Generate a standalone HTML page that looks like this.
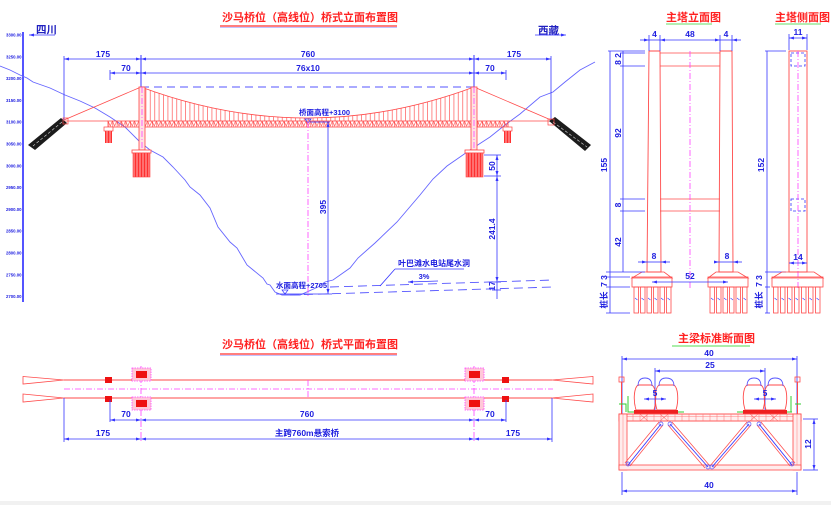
<!DOCTYPE html>
<html><head><meta charset="utf-8">
<style>
html,body{margin:0;padding:0;background:#fff;}
svg{display:block;}
text{font-family:"Liberation Sans","Noto Sans CJK SC",sans-serif;font-weight:bold;}
.d{stroke:#3535ff;stroke-width:0.8;fill:none;}
.da{stroke:#3535ff;stroke-width:0.8;fill:none;marker-start:url(#ar);marker-end:url(#ar);}
.r{stroke:#ff4a4a;stroke-width:0.8;fill:none;}
.pk{stroke:#ff40ff;stroke-width:0.8;fill:none;stroke-dasharray:6 2 1 2;}
.t{fill:#2020e0;font-size:8.5px;}
.ti{fill:#ff2020;font-size:11px;}
</style></head><body>
<svg width="831" height="505" viewBox="0 0 831 505" xmlns="http://www.w3.org/2000/svg">
<defs>
<marker id="ar" viewBox="0 0 10 10" refX="10" refY="5" markerWidth="5" markerHeight="5" orient="auto-start-reverse" markerUnits="userSpaceOnUse"><path d="M0,2 L10,5 L0,8 z" fill="#3535ff"/></marker>
<pattern id="hg" width="4.4" height="10" patternUnits="userSpaceOnUse" x="141"><line x1="0.5" y1="0" x2="0.5" y2="10" stroke="#ff5555" stroke-width="0.7"/></pattern>
<pattern id="tr" width="4.4" height="6" patternUnits="userSpaceOnUse" x="108" y="121"><path d="M0,0 L2.2,5 L4.4,0 M0.3,0 V6" stroke="#ff4444" stroke-width="0.6" fill="none"/></pattern>
<pattern id="pl" width="3" height="10" patternUnits="userSpaceOnUse"><rect width="3" height="10" fill="#ff7070"/><line x1="0.5" y1="0" x2="0.5" y2="10" stroke="#ff2020" stroke-width="0.8"/></pattern>
</defs>
<rect x="0" y="0" width="831" height="505" fill="#fff"/>
<rect x="0" y="501" width="831" height="4" fill="#f1f1f1"/>

<!-- ============ ELEVATION ============ -->
<text x="222" y="21" class="ti">沙马桥位（高线位）桥式立面布置图</text>
<line x1="220" y1="26" x2="397" y2="26" stroke="#ff3030" stroke-width="1.2"/>
<line x1="220" y1="27.5" x2="397" y2="27.5" stroke="#8888ff" stroke-width="0.6"/>

<text x="36" y="33" fill="#2020c0" font-size="10.5">四川</text>
<line x1="29" y1="35" x2="55" y2="35" class="d" marker-start="url(#ar)"/>
<text x="538" y="34" fill="#2020c0" font-size="10.5">西藏</text>
<line x1="535" y1="35" x2="566" y2="35" class="d" marker-end="url(#ar)"/>

<!-- elevation axis -->
<line x1="23" y1="32" x2="23" y2="302" stroke="#2a2aff" stroke-width="1.6"/>
<g fill="#2020e0" font-size="4.3">
<text x="6" y="36.5">3300.00</text><text x="6" y="58.3">3250.00</text><text x="6" y="80.1">3200.00</text>
<text x="6" y="101.9">3150.00</text><text x="6" y="123.7">3100.00</text><text x="6" y="145.5">3050.00</text>
<text x="6" y="167.3">3000.00</text><text x="6" y="189.1">2950.00</text><text x="6" y="210.9">2900.00</text>
<text x="6" y="232.7">2850.00</text><text x="6" y="254.5">2800.00</text><text x="6" y="276.3">2750.00</text>
<text x="6" y="298.1">2700.00</text>
</g>

<!-- terrain -->
<polyline fill="none" stroke="#6565ff" stroke-width="0.9" points="0,66 10,70 20,75 27,78 33,82 50,88 65,95 80,101 95,108 110,117 125,127 140,142 150,150 163,157 173,167 185,180 190,187 200,195 210,208 218,227 230,242 237,248 247,265 263,278 267,284 270,285 275,292 282,295 300,295 318,287 325,282 333,280 350,268 358,258 375,243 397,222 420,195 433,179 447,166 460,157 470,150 490,137 505,125 520,114 540,97 553,92 565,82 580,70 595,62"/>

<!-- top dims -->
<line x1="64" y1="59" x2="141" y2="59" class="da"/>
<line x1="141" y1="59" x2="474" y2="59" class="da"/>
<line x1="474" y1="59" x2="551" y2="59" class="da"/>
<line x1="110" y1="73" x2="141" y2="73" class="da"/>
<line x1="141" y1="73" x2="474" y2="73" class="da"/>
<line x1="474" y1="73" x2="506" y2="73" class="da"/>
<line x1="64" y1="56" x2="64" y2="120" class="d"/>
<line x1="551" y1="56" x2="551" y2="120" class="d"/>
<line x1="141" y1="55" x2="141" y2="87" stroke="#3535ff" stroke-width="1"/>
<line x1="474" y1="55" x2="474" y2="87" stroke="#3535ff" stroke-width="1"/>
<line x1="110" y1="70" x2="110" y2="80" class="d"/>
<line x1="506" y1="70" x2="506" y2="80" class="d"/>
<text x="103" y="57" class="t" text-anchor="middle">175</text>
<text x="308" y="57" class="t" text-anchor="middle">760</text>
<text x="514" y="57" class="t" text-anchor="middle">175</text>
<text x="126" y="71" class="t" text-anchor="middle">70</text>
<text x="308" y="71" class="t" text-anchor="middle">76x10</text>
<text x="490" y="71" class="t" text-anchor="middle">70</text>
<line x1="141" y1="87" x2="474" y2="87" stroke="#5555ff" stroke-width="1" stroke-dasharray="8 5"/>

<!-- cable & hangers -->
<path d="M141,87 Q307.5,149 474,87 L474,121 L141,121 Z" fill="url(#hg)"/>
<path d="M141,87 Q307.5,149 474,87" class="r" stroke-width="1"/>
<line x1="141" y1="87" x2="64" y2="120" class="r"/>
<line x1="474" y1="87" x2="551" y2="120" class="r"/>
<line x1="64" y1="121" x2="108" y2="121" class="r"/>
<line x1="508" y1="121" x2="551" y2="121" class="r"/>
<!-- deck -->
<rect x="108" y="121" width="400" height="6" fill="url(#tr)" stroke="#ff4444" stroke-width="0.8"/>
<!-- towers -->
<rect x="139" y="87" width="6" height="63" fill="#ffe2e2" stroke="#ff4444" stroke-width="0.8"/>
<rect x="471" y="87" width="6" height="63" fill="#ffe2e2" stroke="#ff4444" stroke-width="0.8"/>
<line x1="142" y1="87" x2="142" y2="150" class="pk"/>
<line x1="474" y1="87" x2="474" y2="150" class="pk"/>
<!-- foundations -->
<rect x="132" y="150" width="19" height="3" fill="#fff" stroke="#ff4444" stroke-width="0.8"/>
<rect x="133" y="153" width="17" height="24" fill="url(#pl)" stroke="#ff4444" stroke-width="0.6"/>
<rect x="465" y="150" width="19" height="3" fill="#fff" stroke="#ff4444" stroke-width="0.8"/>
<rect x="466" y="153" width="17" height="24" fill="url(#pl)" stroke="#ff4444" stroke-width="0.6"/>
<!-- side piers -->
<rect x="104" y="127" width="9" height="4" fill="#fff" stroke="#ff4444" stroke-width="0.7"/>
<rect x="105" y="131" width="7" height="12" fill="url(#pl)"/>
<rect x="503" y="127" width="9" height="4" fill="#fff" stroke="#ff4444" stroke-width="0.7"/>
<rect x="504" y="131" width="7" height="12" fill="url(#pl)"/>
<!-- anchors -->
<polygon points="61,118 67,123 35,150 28,145" fill="#1c1c1c"/>
<line x1="62" y1="122" x2="33" y2="146" stroke="#ddd" stroke-width="0.6" stroke-dasharray="3 2"/>
<rect x="63" y="118" width="5" height="6" fill="none" stroke="#ff4444" stroke-width="0.7"/>
<polygon points="549,121 555,117 591,145 585,151" fill="#1c1c1c"/>
<line x1="553" y1="122" x2="587" y2="147" stroke="#ddd" stroke-width="0.6" stroke-dasharray="3 2"/>
<rect x="548" y="119" width="6" height="6" fill="none" stroke="#ff4444" stroke-width="0.7"/>

<!-- centre annotations -->
<text x="299" y="115" fill="#2020e0" font-size="7.5">桥面高程+3100</text>
<path d="M305,119 L311,119 L308,123 Z" fill="none" stroke="#3535ff" stroke-width="0.7"/>
<line x1="308" y1="122" x2="308" y2="297" class="pk"/>
<line x1="310" y1="122" x2="330" y2="122" class="d"/>
<line x1="328" y1="122" x2="328" y2="294" class="da"/>
<text transform="translate(326,207) rotate(-90)" class="t" text-anchor="middle">395</text>
<text x="276" y="288" fill="#2020e0" font-size="7.5">水面高程+2705</text>
<path d="M282,290 L288,290 L285,294 Z" fill="none" stroke="#3535ff" stroke-width="0.7"/>
<line x1="276" y1="294" x2="332" y2="294" class="d"/>

<!-- right dims -->
<line x1="497" y1="155" x2="497" y2="176" class="da"/>
<line x1="497" y1="176" x2="497" y2="282" class="da"/>
<line x1="497" y1="282" x2="497" y2="290" class="d"/>
<line x1="497" y1="290" x2="497" y2="299" class="d"/>
<line x1="484" y1="155" x2="501" y2="155" class="d"/>
<line x1="484" y1="176" x2="501" y2="176" class="d"/>
<line x1="492" y1="282" x2="501" y2="282" class="d"/>
<line x1="492" y1="290" x2="501" y2="290" class="d"/>
<text transform="translate(495,166) rotate(-90)" class="t" text-anchor="middle">50</text>
<text transform="translate(495,229) rotate(-90)" class="t" text-anchor="middle">241.4</text>
<text transform="translate(495,286) rotate(-90)" class="t" text-anchor="middle" font-size="7">17</text>

<!-- dashed tunnel lines -->
<line x1="330" y1="287" x2="553" y2="280" stroke="#5555ff" stroke-width="0.9" stroke-dasharray="9 5"/>
<line x1="290" y1="295" x2="553" y2="287" stroke="#5555ff" stroke-width="0.9" stroke-dasharray="9 5"/>
<text x="398" y="266" fill="#2020e0" font-size="8">叶巴滩水电站尾水洞</text>
<line x1="395" y1="269" x2="464" y2="269" class="d"/>
<line x1="395" y1="269" x2="380" y2="286" class="d"/>
<text x="424" y="279" fill="#2020e0" font-size="7.5" text-anchor="middle">3%</text>
<line x1="438" y1="281" x2="408" y2="282" class="d" marker-end="url(#ar)"/>

<!-- ============ TOWER ELEVATION ============ -->
<text x="666" y="21" class="ti" font-size="10.5">主塔立面图</text>
<line x1="666" y1="24" x2="712" y2="24" stroke="#66dd66" stroke-width="1"/>
<text x="775" y="21" class="ti" font-size="10.5">主塔侧面图</text>
<line x1="775" y1="24" x2="821" y2="24" stroke="#66dd66" stroke-width="1"/>

<!-- legs -->
<polygon points="649,51 660,51 661,272 647,272" fill="none" stroke="#ff4a4a" stroke-width="0.9"/>
<polygon points="720,51 732,51 733,272 719,272" fill="none" stroke="#ff4a4a" stroke-width="0.9"/>
<line x1="660" y1="53" x2="720" y2="53" class="r"/>
<line x1="660" y1="66" x2="720" y2="66" class="r"/>
<line x1="660" y1="199" x2="720" y2="199" class="r"/>
<line x1="660" y1="211" x2="720" y2="211" class="r"/>
<line x1="690" y1="51" x2="690" y2="290" class="pk"/>
<!-- footings -->
<path d="M642,272 L664,272 L672,278 L632,278 Z" fill="none" stroke="#ff4a4a" stroke-width="0.8"/>
<rect x="632" y="277" width="40" height="10" fill="none" stroke="#ff4a4a" stroke-width="0.8"/>
<path d="M716,272 L738,272 L748,278 L708,278 Z" fill="none" stroke="#ff4a4a" stroke-width="0.8"/>
<rect x="708" y="277" width="40" height="10" fill="none" stroke="#ff4a4a" stroke-width="0.8"/>
<g fill="none" stroke="#ff4a4a" stroke-width="0.8">
<rect x="634" y="287" width="4.5" height="26"/><rect x="640.5" y="287" width="4.5" height="26"/><rect x="647" y="287" width="4.5" height="26"/>
<rect x="653.5" y="287" width="4.5" height="26"/><rect x="660" y="287" width="4.5" height="26"/><rect x="666.5" y="287" width="4.5" height="26"/>
<rect x="710" y="287" width="4.5" height="26"/><rect x="716.5" y="287" width="4.5" height="26"/><rect x="723" y="287" width="4.5" height="26"/>
<rect x="729.5" y="287" width="4.5" height="26"/><rect x="736" y="287" width="4.5" height="26"/><rect x="742.5" y="287" width="4.5" height="26"/>
</g>
<g stroke="#3535ff" stroke-width="0.6">
<path d="M635,298 l2.5,2 M641.5,298 l2.5,2 M648,298 l2.5,2 M654.5,298 l2.5,2 M661,298 l2.5,2 M667.5,298 l2.5,2"/>
<path d="M711,298 l2.5,2 M717.5,298 l2.5,2 M724,298 l2.5,2 M730.5,298 l2.5,2 M737,298 l2.5,2 M743.5,298 l2.5,2"/>
</g>
<!-- tower dims -->
<line x1="640" y1="40" x2="649" y2="40" class="d" marker-end="url(#ar)"/>
<line x1="649" y1="40" x2="660" y2="40" class="d"/>
<line x1="660" y1="40" x2="720" y2="40" class="da"/>
<line x1="720" y1="40" x2="732" y2="40" class="d"/>
<line x1="741" y1="40" x2="732" y2="40" class="d" marker-end="url(#ar)"/>
<line x1="649" y1="35" x2="649" y2="51" class="d"/><line x1="660" y1="35" x2="660" y2="51" class="d"/>
<line x1="720" y1="35" x2="720" y2="51" class="d"/><line x1="732" y1="35" x2="732" y2="51" class="d"/>
<text x="654.5" y="37" class="t" text-anchor="middle">4</text>
<text x="690" y="37" class="t" text-anchor="middle">48</text>
<text x="726" y="37" class="t" text-anchor="middle">4</text>
<line x1="608" y1="51" x2="645" y2="51" class="d"/>
<line x1="620" y1="53" x2="645" y2="53" class="d"/>
<line x1="620" y1="66" x2="645" y2="66" class="d"/>
<line x1="620" y1="199" x2="645" y2="199" class="d"/>
<line x1="620" y1="211" x2="645" y2="211" class="d"/>
<line x1="606" y1="272" x2="645" y2="272" class="d"/>
<line x1="606" y1="277" x2="630" y2="277" class="d"/>
<line x1="606" y1="287" x2="630" y2="287" class="d"/>
<line x1="606" y1="313" x2="630" y2="313" class="d"/>
<line x1="610" y1="51" x2="610" y2="313" class="d"/>
<line x1="623" y1="51" x2="623" y2="272" class="d"/>
<text transform="translate(607,165) rotate(-90)" class="t" text-anchor="middle">155</text>
<text transform="translate(621,59) rotate(-90)" class="t" text-anchor="middle" font-size="7">8 2</text>
<text transform="translate(621,133) rotate(-90)" class="t" text-anchor="middle">92</text>
<text transform="translate(621,205) rotate(-90)" class="t" text-anchor="middle">8</text>
<text transform="translate(621,242) rotate(-90)" class="t" text-anchor="middle">42</text>
<text transform="translate(607,281) rotate(-90)" class="t" text-anchor="middle" font-size="7">7 3</text>
<text transform="translate(607,300) rotate(-90)" class="t" text-anchor="middle" font-size="6">桩长</text>
<line x1="638" y1="262" x2="647" y2="262" class="d" marker-end="url(#ar)"/>
<line x1="647" y1="262" x2="661" y2="262" class="d"/>
<line x1="670" y1="262" x2="661" y2="262" class="d" marker-end="url(#ar)"/>
<text x="654" y="259" class="t" text-anchor="middle">8</text>
<line x1="714" y1="262" x2="719" y2="262" class="d" marker-end="url(#ar)"/>
<line x1="719" y1="262" x2="733" y2="262" class="d"/>
<line x1="742" y1="262" x2="733" y2="262" class="d" marker-end="url(#ar)"/>
<text x="727" y="259" class="t" text-anchor="middle">8</text>
<line x1="652" y1="282" x2="728" y2="282" class="da"/>
<text x="690" y="279" class="t" text-anchor="middle">52</text>

<!-- side view -->
<rect x="789" y="51" width="18" height="221" fill="none" stroke="#ff4a4a" stroke-width="0.9"/>
<rect x="791" y="53" width="14" height="13" fill="none" stroke="#3535ff" stroke-width="0.8" stroke-dasharray="3 2"/>
<rect x="791" y="199" width="14" height="12" fill="none" stroke="#3535ff" stroke-width="0.8" stroke-dasharray="3 2"/>
<line x1="798" y1="51" x2="798" y2="290" class="pk"/>
<line x1="789" y1="38" x2="807" y2="38" class="da"/>
<line x1="789" y1="34" x2="789" y2="50" class="d"/><line x1="807" y1="34" x2="807" y2="50" class="d"/>
<text x="798" y="35" class="t" text-anchor="middle">11</text>
<line x1="765" y1="51" x2="786" y2="51" class="d"/>
<line x1="765" y1="272" x2="786" y2="272" class="d"/>
<line x1="765" y1="287" x2="770" y2="287" class="d"/>
<line x1="765" y1="313" x2="770" y2="313" class="d"/>
<line x1="767" y1="51" x2="767" y2="313" class="d"/>
<text transform="translate(764,165) rotate(-90)" class="t" text-anchor="middle">152</text>
<text transform="translate(762,281) rotate(-90)" class="t" text-anchor="middle" font-size="7">7 3</text>
<text transform="translate(762,300) rotate(-90)" class="t" text-anchor="middle" font-size="6">桩长</text>
<line x1="789" y1="263" x2="807" y2="263" class="da"/>
<text x="798" y="260" class="t" text-anchor="middle">14</text>
<path d="M782,272 L814,272 L823,278 L772,278 Z" fill="none" stroke="#ff4a4a" stroke-width="0.8"/>
<rect x="772" y="277" width="51" height="10" fill="none" stroke="#ff4a4a" stroke-width="0.8"/>
<g fill="none" stroke="#ff4a4a" stroke-width="0.8">
<rect x="773.5" y="287" width="4.5" height="26"/><rect x="780.5" y="287" width="4.5" height="26"/><rect x="787.5" y="287" width="4.5" height="26"/>
<rect x="794.5" y="287" width="4.5" height="26"/><rect x="801.5" y="287" width="4.5" height="26"/><rect x="808.5" y="287" width="4.5" height="26"/>
<rect x="815.5" y="287" width="4.5" height="26"/>
</g>
<path d="M774.5,298 l2.5,2 M781.5,298 l2.5,2 M788.5,298 l2.5,2 M795.5,298 l2.5,2 M802.5,298 l2.5,2 M809.5,298 l2.5,2 M816.5,298 l2.5,2" stroke="#3535ff" stroke-width="0.6"/>

<!-- ============ PLAN VIEW ============ -->
<text x="222" y="348" class="ti">沙马桥位（高线位）桥式平面布置图</text>
<line x1="220" y1="354" x2="397" y2="354" stroke="#ff3030" stroke-width="1.2"/>
<line x1="220" y1="355.5" x2="397" y2="355.5" stroke="#8888ff" stroke-width="0.6"/>

<polygon points="23,376.5 64,380 23,384" fill="none" stroke="#ff4a4a" stroke-width="0.8"/>
<polygon points="23,394 64,398 23,402" fill="none" stroke="#ff4a4a" stroke-width="0.8"/>
<polygon points="593,376.5 552,380 593,384" fill="none" stroke="#ff4a4a" stroke-width="0.8"/>
<polygon points="593,394 552,398 593,402" fill="none" stroke="#ff4a4a" stroke-width="0.8"/>
<line x1="64" y1="380" x2="552" y2="380" stroke="#ff4a4a" stroke-width="1"/>
<line x1="64" y1="398" x2="552" y2="398" stroke="#ff4a4a" stroke-width="1"/>
<line x1="64" y1="389" x2="553" y2="389" class="pk"/>
<line x1="308" y1="380" x2="308" y2="398" class="pk"/>
<line x1="141" y1="366" x2="141" y2="442" class="pk"/>
<line x1="474" y1="366" x2="474" y2="442" class="pk"/>
<!-- piers -->
<rect x="105" y="377" width="7" height="6" fill="#ee1111"/>
<rect x="105" y="396" width="7" height="6" fill="#ee1111"/>
<rect x="502" y="377" width="7" height="6" fill="#ee1111"/>
<rect x="502" y="396" width="7" height="6" fill="#ee1111"/>
<g stroke="#ff40ff" stroke-width="0.8" stroke-dasharray="1.5 1">
<rect x="132" y="368" width="19" height="13" fill="#ffc8d8"/>
<rect x="132" y="397" width="19" height="13" fill="#ffc8d8"/>
<rect x="465" y="368" width="19" height="13" fill="#ffc8d8"/>
<rect x="465" y="397" width="19" height="13" fill="#ffc8d8"/>
</g>
<rect x="136" y="371" width="11" height="7" fill="#ee1111"/>
<rect x="136" y="400" width="11" height="7" fill="#ee1111"/>
<rect x="469" y="371" width="11" height="7" fill="#ee1111"/>
<rect x="469" y="400" width="11" height="7" fill="#ee1111"/>
<!-- plan dims -->
<line x1="64" y1="398" x2="64" y2="442" class="d"/>
<line x1="552" y1="398" x2="552" y2="442" class="d"/>
<line x1="110" y1="400" x2="110" y2="422" class="d"/>
<line x1="506" y1="400" x2="506" y2="422" class="d"/>
<line x1="110" y1="420" x2="141" y2="420" class="da"/>
<line x1="141" y1="420" x2="474" y2="420" class="da"/>
<line x1="474" y1="420" x2="506" y2="420" class="da"/>
<line x1="64" y1="439" x2="141" y2="439" class="da"/>
<line x1="141" y1="439" x2="474" y2="439" class="da"/>
<line x1="474" y1="439" x2="552" y2="439" class="da"/>
<text x="126" y="417" class="t" text-anchor="middle">70</text>
<text x="307" y="417" class="t" text-anchor="middle">760</text>
<text x="490" y="417" class="t" text-anchor="middle">70</text>
<text x="103" y="436" class="t" text-anchor="middle">175</text>
<text x="307" y="436" class="t" text-anchor="middle">主跨760m悬索桥</text>
<text x="513" y="436" class="t" text-anchor="middle">175</text>

<!-- ============ CROSS SECTION ============ -->
<text x="678" y="342" class="ti" font-size="10.5">主梁标准断面图</text>
<line x1="672" y1="346" x2="750" y2="346" stroke="#55dd55" stroke-width="1"/>
<line x1="622" y1="359" x2="797" y2="359" class="da"/>
<line x1="622" y1="356" x2="622" y2="414" class="d"/>
<line x1="797" y1="356" x2="797" y2="414" class="d"/>
<text x="709" y="356" class="t" text-anchor="middle">40</text>
<line x1="655" y1="371" x2="765" y2="371" class="da"/>
<text x="710" y="368" class="t" text-anchor="middle">25</text>
<line x1="655" y1="368" x2="655" y2="410" class="d"/>
<line x1="765" y1="368" x2="765" y2="410" class="d"/>
<!-- lamp posts -->
<rect x="619" y="377" width="5" height="5" fill="none" stroke="#ff4a4a" stroke-width="0.8"/>
<line x1="621.5" y1="382" x2="621.5" y2="414" stroke="#ff4a4a" stroke-width="1"/>
<rect x="795" y="377" width="5" height="5" fill="none" stroke="#ff4a4a" stroke-width="0.8"/>
<line x1="797.5" y1="382" x2="797.5" y2="414" stroke="#ff4a4a" stroke-width="1"/>
<!-- cars -->
<g fill="none" stroke-width="0.9">
<path d="M636,410 C633,400 634,388 638,385 L652,385 C656,388 657,400 654,410 Z" stroke="#ff4a4a"/>
<path d="M638,386 Q638,378 645,378 Q652,378 652,386" stroke="#5555ff"/>
<path d="M657,410 C654,400 655,388 659,385 L674,385 C678,388 679,400 676,410 Z" stroke="#ff4a4a"/>
<path d="M659,386 Q659,378 666,378 Q674,378 674,386" stroke="#5555ff"/>
<path d="M745,410 C742,400 743,388 747,385 L761,385 C765,388 766,400 763,410 Z" stroke="#ff4a4a"/>
<path d="M747,386 Q747,378 754,378 Q761,378 761,386" stroke="#5555ff"/>
<path d="M766,410 C763,400 764,388 768,385 L783,385 C787,388 788,400 785,410 Z" stroke="#ff4a4a"/>
<path d="M768,386 Q768,378 775,378 Q783,378 783,386" stroke="#5555ff"/>
</g>
<line x1="644" y1="399" x2="666" y2="399" class="da"/>
<text x="655" y="396" class="t" text-anchor="middle">5</text>
<line x1="754" y1="399" x2="776" y2="399" class="da"/>
<text x="765" y="396" class="t" text-anchor="middle">5</text>
<rect x="634" y="410" width="44" height="4" fill="#ee2020"/>
<rect x="743" y="410" width="44" height="4" fill="#ee2020"/>
<g stroke="#33cc33" stroke-width="1" fill="none">
<path d="M628,396 V412 H634"/><path d="M678,412 H684"/><path d="M737,412 H743"/><path d="M787,412 H792 M791,396 V412"/>
<path d="M619,404 H626 V412"/><path d="M795,404 H801"/>
</g>
<!-- deck -->
<rect x="619" y="414" width="182" height="7" fill="#fff0f0" stroke="#ff4a4a" stroke-width="0.9"/>
<line x1="619" y1="416.5" x2="801" y2="416.5" stroke="#ff8080" stroke-width="0.5"/>
<path d="M633,414 V421 M640,414 V421 M647,414 V421 M654,414 V421 M661,414 V421 M668,414 V421 M675,414 V421 M682,414 V421 M689,414 V421 M696,414 V421 M703,414 V421 M710,414 V421 M717,414 V421 M724,414 V421 M731,414 V421 M738,414 V421 M745,414 V421 M752,414 V421 M759,414 V421 M766,414 V421 M773,414 V421 M780,414 V421 M787,414 V421" stroke="#ff7070" stroke-width="0.5"/>
<path d="M640,414 l8,7 M648,414 l-8,7 M660,414 l8,7 M668,414 l-8,7 M750,414 l8,7 M758,414 l-8,7 M770,414 l8,7 M778,414 l-8,7" stroke="#ff4a4a" stroke-width="0.5"/>
<rect x="619" y="414" width="8" height="56" fill="#ffecec" stroke="#ff4a4a" stroke-width="0.8"/>
<rect x="793" y="414" width="8" height="56" fill="#ffecec" stroke="#ff4a4a" stroke-width="0.8"/>
<line x1="623" y1="414" x2="623" y2="470" stroke="#ff8080" stroke-width="0.5"/>
<line x1="797" y1="414" x2="797" y2="470" stroke="#ff8080" stroke-width="0.5"/>
<rect x="619" y="465" width="182" height="5" fill="#ffecec" stroke="#ff4a4a" stroke-width="0.8"/>
<!-- diagonals -->
<g stroke="#ff5050" stroke-width="0.8">
<path d="M659,422 L625,463 M663,425 L630,466"/>
<path d="M668,425 L705,468 M672,422 L710,466"/>
<path d="M747,422 L710,466 M751,425 L714,468"/>
<path d="M757,425 L790,466 M761,422 L795,463"/>
</g>
<g stroke="#3535ff" stroke-width="0.9">
<line x1="661" y1="424" x2="628" y2="465"/><line x1="670" y1="424" x2="708" y2="467"/>
<line x1="749" y1="424" x2="712" y2="467"/><line x1="759" y1="424" x2="792" y2="465"/>
</g>
<g fill="none" stroke="#5555ff" stroke-width="0.7">
<circle cx="661" cy="424" r="2"/><circle cx="670" cy="424" r="2"/><circle cx="749" cy="424" r="2"/><circle cx="759" cy="424" r="2"/>
<circle cx="628" cy="464" r="2"/><circle cx="708" cy="467" r="2"/><circle cx="712" cy="467" r="2"/><circle cx="792" cy="464" r="2"/>
</g>
<!-- section dims -->
<line x1="803" y1="419" x2="818" y2="419" class="d"/>
<line x1="803" y1="470" x2="818" y2="470" class="d"/>
<line x1="814" y1="419" x2="814" y2="470" class="da"/>
<text transform="translate(811,444) rotate(-90)" class="t" text-anchor="middle">12</text>
<line x1="622" y1="472" x2="622" y2="495" class="d"/>
<line x1="797" y1="472" x2="797" y2="495" class="d"/>
<line x1="622" y1="491" x2="797" y2="491" class="da"/>
<text x="709" y="488" class="t" text-anchor="middle">40</text>
</svg>
</body></html>
